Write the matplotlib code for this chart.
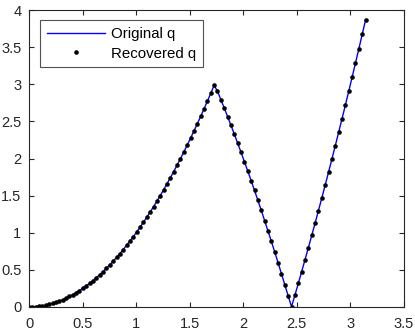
import matplotlib
matplotlib.use("Agg")
import matplotlib.pyplot as plt

x_vals = [
    0.0000, 0.0314, 0.0628, 0.0942, 0.1257, 0.1571, 0.1885, 0.2199, 0.2513, 0.2827,
    0.3142, 0.3456, 0.3770, 0.4084, 0.4398, 0.4712, 0.5027, 0.5341, 0.5655, 0.5969,
    0.6283, 0.6597, 0.6912, 0.7226, 0.7540, 0.7854, 0.8168, 0.8482, 0.8796, 0.9111,
    0.9425, 0.9739, 1.0053, 1.0367, 1.0681, 1.0996, 1.1310, 1.1624, 1.1938, 1.2252,
    1.2566, 1.2881, 1.3195, 1.3509, 1.3823, 1.4137, 1.4451, 1.4765, 1.5080, 1.5394,
    1.5708, 1.6022, 1.6336, 1.6650, 1.6965, 1.7279, 1.7593, 1.7907, 1.8221, 1.8535,
    1.8850, 1.9164, 1.9478, 1.9792, 2.0106, 2.0420, 2.0735, 2.1049, 2.1363, 2.1677,
    2.1991, 2.2305, 2.2619, 2.2934, 2.3248, 2.3562, 2.3876, 2.4190, 2.4504, 2.4819,
    2.5133, 2.5447, 2.5761, 2.6075, 2.6389, 2.6704, 2.7018, 2.7332, 2.7646, 2.7960,
    2.8274, 2.8588, 2.8903, 2.9217, 2.9531, 2.9845, 3.0159, 3.0473, 3.0788, 3.1102,
    3.1416,
]

q_original = [
    0.0000, 0.0010, 0.0039, 0.0089, 0.0158, 0.0247, 0.0355, 0.0484, 0.0632, 0.0799,
    0.0987, 0.1194, 0.1421, 0.1668, 0.1934, 0.2221, 0.2527, 0.2852, 0.3198, 0.3563,
    0.3948, 0.4353, 0.4777, 0.5221, 0.5685, 0.6169, 0.6672, 0.7195, 0.7738, 0.8300,
    0.8883, 0.9485, 1.0107, 1.0748, 1.1409, 1.2090, 1.2791, 1.3512, 1.4252, 1.5012,
    1.5791, 1.6591, 1.7410, 1.8249, 1.9108, 1.9986, 2.0884, 2.1802, 2.2740, 2.3697,
    2.4674, 2.5671, 2.6687, 2.7724, 2.8780, 2.9856, 2.9049, 2.7934, 2.6799, 2.5644,
    2.4469, 2.3275, 2.2061, 2.0828, 1.9574, 1.8301, 1.7008, 1.5695, 1.4363, 1.3011,
    1.1639, 1.0247, 0.8836, 0.7405, 0.5954, 0.4484, 0.2993, 0.1483, 0.0047, 0.1596,
    0.3166, 0.4755, 0.6363, 0.7992, 0.9640, 1.1308, 1.2996, 1.4703, 1.6430, 1.8177,
    1.9944, 2.1730, 2.3536, 2.5362, 2.7208, 2.9073, 3.0958, 3.2863, 3.4788, 3.6732,
    3.8696,
]

q_recovered = list(q_original)

x_ticks = [0, 0.5, 1, 1.5, 2, 2.5, 3, 3.5]
y_ticks = [0, 0.5, 1, 1.5, 2, 2.5, 3, 3.5, 4]
x_tick_labels = ["0", "0.5", "1", "1.5", "2", "2.5", "3", "3.5"]
y_tick_labels = ["0", "0.5", "1", "1.5", "2", "2.5", "3", "3.5", "4"]

plt.rcParams["font.family"] = ["Liberation Sans", "DejaVu Sans"]

fig = plt.figure(figsize=(4.15, 3.33), dpi=100)
ax = fig.add_axes([29 / 415, 1 - 307 / 333, (404 - 29) / 415, (307 - 10) / 333])

ax.plot(x_vals, q_original, color=(0, 0, 1), lw=1.0, label="Original q")
ax.plot(x_vals, q_recovered, linestyle="none", marker="o", ms=3.3, color="black",
        markeredgewidth=0, label="Recovered q")

ax.set_xlim(0, 3.5)
ax.set_ylim(0, 4)
ax.set_xticks(x_ticks)
ax.set_xticklabels(x_tick_labels)
ax.set_yticks(y_ticks)
ax.set_yticklabels(y_tick_labels)

axcol = (0.15, 0.15, 0.15)
for s in ax.spines.values():
    s.set_color(axcol)
    s.set_linewidth(0.8)
ax.tick_params(direction="in", top=True, right=True, length=3.5, width=0.8,
               colors=axcol, labelsize=10.5)
ax.tick_params(axis="x", pad=7)
ax.tick_params(axis="y", pad=5.5)

leg = ax.legend(loc="upper left", bbox_to_anchor=(0.029, 0.966), fontsize=10.8,
                frameon=True, fancybox=False, handlelength=3.9, handletextpad=0.4,
                borderpad=0.45, labelspacing=0.38, borderaxespad=0)
leg.get_frame().set_edgecolor(axcol)
leg.get_frame().set_linewidth(0.8)

fig.savefig("out.png", dpi=100)
